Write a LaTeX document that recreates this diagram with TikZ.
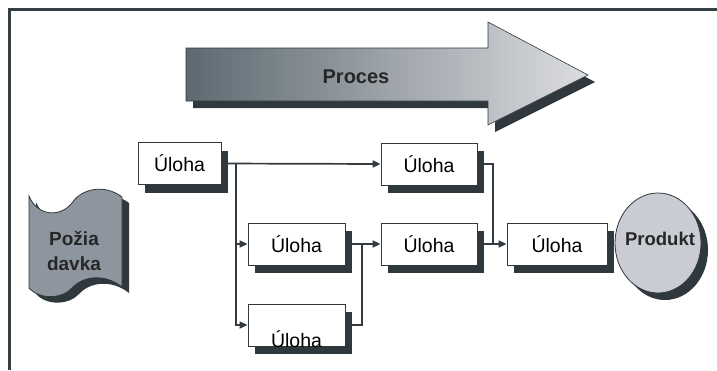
\documentclass[tikz,border=0pt]{standalone}
\usepackage{fontspec}
\setmainfont{Liberation Sans}
\usetikzlibrary{arrows.meta,shadows,shapes.geometric}

\definecolor{framecol}{HTML}{353F43}
\definecolor{shadowcol}{HTML}{2E383D}
\definecolor{edgecol}{HTML}{30383D}
\definecolor{linkcol}{HTML}{333B40}
\definecolor{tapefill}{HTML}{8D969E}
\definecolor{prodfill}{HTML}{C9CCD2}
\definecolor{arrowdark}{HTML}{5D6971}
\definecolor{arrowlight}{HTML}{DCDDE1}

\begin{document}
\begin{tikzpicture}[x=1pt,y=-1pt,
  task/.style={draw=edgecol, line width=0.8pt, fill=white, inner sep=0pt,
    minimum height=42pt, font=\fontsize{19.5}{22}\selectfont,
    drop shadow={opacity=1, fill=shadowcol, shadow xshift=7pt, shadow yshift=-8pt}},
  link/.style={draw=linkcol, line width=1.7pt},
  arr/.style={link, -{Triangle[length=8pt,width=7pt]}},
  boldtext/.style={font=\bfseries\fontsize{19}{25}\selectfont, text=black!85}]

\useasboundingbox (0,0) rectangle (717,370);
\fill[white] (0,0) rectangle (717,370);

% frame on the top and left edges
\draw[framecol, line width=3pt] (9,370) -- (9,9) -- (717,9);

% process arrow with its shadow
\fill[shadowcol] (193,55) -- (495,55) -- (495,29) -- (595,82) -- (495,132) -- (495,108) -- (193,108) -- cycle;
\shade[left color=arrowdark, right color=arrowlight]
  (186,48) -- (488,48) -- (488,22) -- (588,75) -- (488,125) -- (488,101) -- (186,101) -- cycle;
\draw[edgecol, line width=0.6pt]
  (186,48) -- (488,48) -- (488,22) -- (588,75) -- (488,125) -- (488,101) -- (186,101) -- cycle;
\node[boldtext, font=\bfseries\fontsize{20}{25}\selectfont] (proces) at (356,77) {Proces};

% request document (punched tape shape)
\begin{scope}[shift={(7,6)}]
\fill[shadowcol] (29,196) .. controls (37,216) and (60,218) .. (72,203)
  .. controls (82,188) and (105,184) .. (122,197) -- (122,287)
  .. controls (106,274) and (84,275) .. (72,288)
  .. controls (62,299) and (40,300) .. (29,288) -- cycle;
\end{scope}
\draw[edgecol, line width=0.8pt, fill=tapefill]
  (29,196) .. controls (37,216) and (60,218) .. (72,203)
  .. controls (82,188) and (105,184) .. (122,197) -- (122,287)
  .. controls (106,274) and (84,275) .. (72,288)
  .. controls (62,299) and (40,300) .. (29,288) -- cycle;
\node[boldtext, align=center] (req) at (74,251) {Požia\\davka};

% task boxes
\node[task, minimum width=83pt] (b1) at (179.5,163.5) {Úloha};
\node[task, minimum width=96pt] (b2) at (429,164) {Úloha};
\node[task, minimum width=97pt] (b3) at (296.5,244) {Úloha};
\node[task, minimum width=97pt] (b4) at (296.5,325) {};
\node[anchor=base, font=\fontsize{19.5}{22}\selectfont] (b4text) at ([yshift=-1pt]b4.south) {Úloha};
\node[task, minimum width=96pt] (b5) at (429,244) {Úloha};
\node[task, minimum width=100pt] (b6) at (557,244) {Úloha};

% product
\node[ellipse, draw=edgecol, line width=0.8pt, fill=prodfill, minimum width=86pt, minimum height=100pt,
  inner sep=0pt, drop shadow={opacity=1, fill=shadowcol, shadow xshift=7pt, shadow yshift=-7pt}]
  (prod) at (658,243) {};
\node[boldtext, font=\bfseries\fontsize{18.5}{22}\selectfont] (prodtext) at (660,239) {Produkt};

% connectors
\coordinate (j1) at (236,163.5);
\coordinate (j2) at (362,244);
\coordinate (j3) at (493,244);
\draw[arr] (b1.east) -- (b2.west);
\draw[arr] (j1) |- (b3.west);
\draw[arr] (j1) |- (b4.west);
\draw[link] (b3.east) -- (j2);
\draw[link] (b4.east) -| (j2);
\draw[arr] (j2) -- (b5.west);
\draw[link] (b2.east) -| (j3);
\draw[link] (b5.east) -- (j3);
\draw[arr] (j3) -- (b6.west);
\end{tikzpicture}
\end{document}
